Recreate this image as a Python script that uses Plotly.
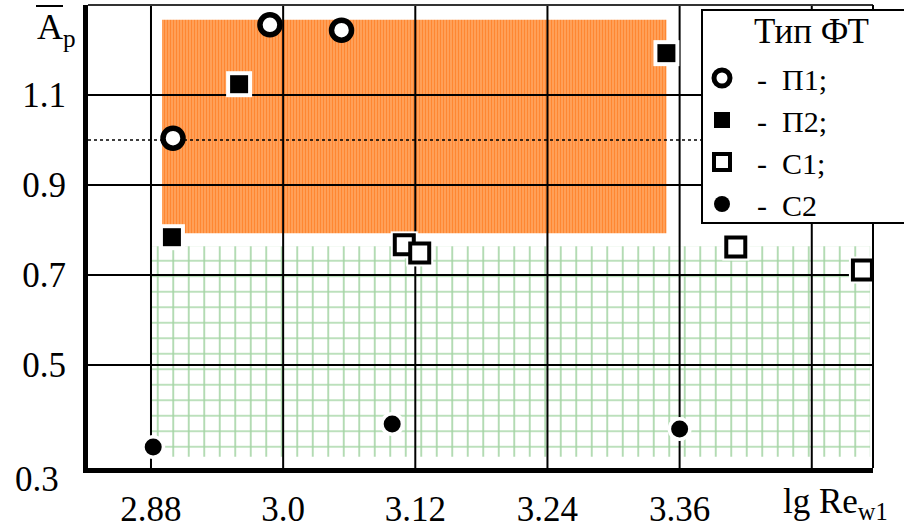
import plotly.graph_objects as go

# ---------------- data ----------------
p1_x = [2.900, 2.988, 3.053]
p1_y = [1.004, 1.256, 1.244]
p2_x = [2.899, 2.960, 3.348]
p2_y = [0.784, 1.124, 1.193]
c1_x = [3.110, 3.124, 3.411, 3.526]
c1_y = [0.767, 0.749, 0.762, 0.711]
c2_x = [2.882, 3.099, 3.360]
c2_y = [0.318, 0.369, 0.358]

series_names = ["П1;", "П2;", "С1;", "С2"]
legend_title = "Тип ФТ"

x_ticks = [2.88, 3.0, 3.12, 3.24, 3.36]
x_tick_labels = ["2.88", "3.0", "3.12", "3.24", "3.36"]
x_grid = [2.88, 3.0, 3.12, 3.24, 3.36, 3.48]
y_ticks = [0.5, 0.7, 0.9, 1.1]
y_tick_labels = ["0.5", "0.7", "0.9", "1.1"]
y_bottom_label = "0.3"
ref_level = 1.0

orange_x = [2.890, 3.348]
orange_y = [0.793, 1.267]
green_x = [2.880, 3.533]
green_y = [0.296, 0.764]

x_range = [2.8228, 3.5356]
y_range = [0.2711, 1.300]

FONT = "Liberation Serif, Times New Roman, serif"

fig = go.Figure()


def rect(xs, ys):
    return [xs[0], xs[1], xs[1], xs[0], xs[0]], [ys[0], ys[0], ys[1], ys[1], ys[0]]


ox, oy = rect(orange_x, orange_y)
fig.add_trace(go.Scatter(
    x=ox, y=oy, mode="none", fill="toself", showlegend=False, hoverinfo="skip",
    fillcolor="#ff9a55",
    fillpattern=dict(shape="|", size=3, solidity=0.5, fgcolor="#ff6600", bgcolor="#ffa865"),
))
gx, gy = rect(green_x, green_y)
fig.add_trace(go.Scatter(
    x=gx, y=gy, mode="none", fill="toself", showlegend=False, hoverinfo="skip",
    fillcolor="white",
    fillpattern=dict(shape="+", size=15.5, solidity=0.2, fgcolor="rgba(30,150,30,0.8)", bgcolor="white"),
))

# grid lines (drawn above the shaded regions)
vx, vy = [], []
for v in x_grid:
    vx += [v, v, None]
    vy += [y_range[0], y_range[1], None]
hx, hy = [], []
for v in y_ticks:
    hx += [x_range[0], x_range[1], None]
    hy += [v, v, None]
fig.add_trace(go.Scatter(x=vx + hx, y=vy + hy, mode="lines", line=dict(color="black", width=2),
                         showlegend=False, hoverinfo="skip"))
fig.add_trace(go.Scatter(x=[x_range[0], x_range[1]], y=[ref_level, ref_level], mode="lines",
                         line=dict(color="black", width=1.5, dash="dot"),
                         showlegend=False, hoverinfo="skip"))

# white halos
for xs, ys, sym, sz in [(p2_x, p2_y, "square", 26), (c1_x, c1_y, "square", 27), (c2_x, c2_y, "circle", 24)]:
    fig.add_trace(go.Scatter(x=xs, y=ys, mode="markers", showlegend=False, hoverinfo="skip",
                             marker=dict(symbol=sym, size=sz, color="white", line=dict(width=0))))


def nm(s):
    return "\u00a0\u00a0-\u00a0\u00a0" + s


fig.add_trace(go.Scatter(x=p1_x, y=p1_y, mode="markers", name=nm(series_names[0]),
                         marker=dict(symbol="circle", size=20, color="white",
                                     line=dict(color="black", width=5.5))))
fig.add_trace(go.Scatter(x=p2_x, y=p2_y, mode="markers", name=nm(series_names[1]),
                         marker=dict(symbol="square", size=18, color="black",
                                     line=dict(color="black", width=0))))
fig.add_trace(go.Scatter(x=c1_x, y=c1_y, mode="markers", name=nm(series_names[2]),
                         marker=dict(symbol="square", size=19, color="white",
                                     line=dict(color="black", width=4))))
fig.add_trace(go.Scatter(x=c2_x, y=c2_y, mode="markers", name=nm(series_names[3]),
                         marker=dict(symbol="circle", size=17, color="black",
                                     line=dict(color="black", width=0))))

W, H = 904, 530
L, R, T, B = 88, 31, 5, 62
pw, ph = W - L - R, H - T - B


def px(xp):
    return (xp - L) / pw


def py(yp):
    return (H - B - yp) / ph


fig.update_layout(
    width=W, height=H,
    margin=dict(l=L, r=R, t=T, b=B, autoexpand=False),
    plot_bgcolor="white", paper_bgcolor="white",
    font=dict(family=FONT, size=35, color="black"),
    showlegend=True,
    legend=dict(
        x=px(702), y=py(52), xanchor="left", yanchor="top",
        bgcolor="rgba(0,0,0,0)", borderwidth=0,
        font=dict(family=FONT, size=30, color="black"),
        tracegroupgap=0,
    ),
    xaxis=dict(range=x_range, showgrid=False, zeroline=False, showline=True, linewidth=5,
               linecolor="black", tickvals=x_ticks, ticktext=x_tick_labels, ticks="",
               ticklabelstandoff=6, tickfont=dict(family=FONT, size=35)),
    yaxis=dict(range=y_range, showgrid=False, zeroline=False, showline=True, linewidth=5,
               linecolor="black", tickvals=y_ticks, ticktext=y_tick_labels, ticks="",
               ticklabelstandoff=10, tickfont=dict(family=FONT, size=35)),
    shapes=[
        dict(type="line", xref="paper", yref="paper", x0=0, x1=1, y0=1, y1=1,
             line=dict(color="#333333", width=2)),
        dict(type="line", xref="paper", yref="paper", x0=1, x1=1, y0=0, y1=1,
             line=dict(color="black", width=2)),
        dict(type="line", xref="paper", yref="paper", x0=px(36), x1=px(63), y0=py(6), y1=py(6),
             line=dict(color="black", width=2)),
        # legend box
        dict(type="rect", xref="paper", yref="paper", x0=px(702), x1=px(920), y0=py(223), y1=py(10),
             fillcolor="white", line=dict(color="black", width=2), layer="above"),
    ],
    annotations=[
        dict(text=legend_title, xref="paper", yref="paper", x=px(811), y=py(31),
             xanchor="center", yanchor="middle", showarrow=False, font=dict(family=FONT, size=35)),
        dict(text="A<sub>p</sub>", xref="paper", yref="paper", x=px(35), y=py(5),
             xanchor="left", yanchor="top", showarrow=False, font=dict(family=FONT, size=36)),
        dict(text="lg\u00a0Re<sub>w1</sub>", xref="paper", yref="paper", x=px(781), y=py(480),
             xanchor="left", yanchor="top", showarrow=False, font=dict(family=FONT, size=35)),
        dict(text=y_bottom_label, xref="paper", yref="paper", x=px(61), y=py(480),
             xanchor="right", yanchor="middle", showarrow=False, font=dict(family=FONT, size=35)),
    ],
)

fig.write_html("out.html", config={"displayModeBar": False},
               post_script="document.body.style.margin='0';document.body.style.padding='0';")
